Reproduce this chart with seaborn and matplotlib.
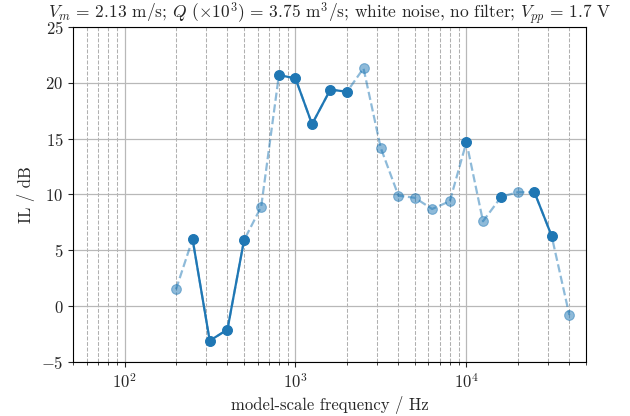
import numpy as np
import pandas as pd
import seaborn as sns
import matplotlib.pyplot as plt

# third-octave band centres (model scale) and insertion loss
freqs = [200, 250, 315, 400, 500, 630, 800, 1000, 1250, 1600, 2000, 2500,
         3150, 4000, 5000, 6300, 8000, 10000, 12500, 16000, 20000, 25000,
         31500, 40000]
il_db = [1.5, 6.0, -3.1, -2.1, 5.9, 8.9, 20.7, 20.4, 16.3, 19.4, 19.2, 21.3,
         14.2, 9.9, 9.7, 8.7, 9.4, 14.7, 7.6, 9.8, 10.2, 10.2, 6.3, -0.8]
# bands that pass the validity check (drawn solid)
valid = [0, 1, 1, 1, 1, 0, 1, 1, 1, 1, 1, 0,
         0, 0, 0, 0, 0, 1, 0, 1, 0, 1, 1, 0]

df = pd.DataFrame({"f": freqs, "il": il_db, "ok": np.array(valid, bool)})
# contiguous runs of valid bands -> separate line units
df["run"] = (~df["ok"]).cumsum()

sns.set_style("ticks")
plt.rcParams["font.family"] = "serif"
plt.rcParams["font.serif"] = ["cmr10"]
plt.rcParams["mathtext.fontset"] = "cm"
plt.rcParams["axes.formatter.use_mathtext"] = True
plt.rcParams["axes.unicode_minus"] = True

fig, ax = plt.subplots(figsize=(6.3, 4.16), dpi=100)
fig.subplots_adjust(left=0.116, right=0.930, top=0.935, bottom=0.130)

c0 = "#1f77b4"
sns.lineplot(data=df, x="f", y="il", ax=ax, color=c0, alpha=0.5,
             linestyle="--", marker="o", markersize=7, linewidth=1.6,
             markeredgecolor=c0, estimator=None, sort=False)
sns.lineplot(data=df[df["ok"]], x="f", y="il", units="run", ax=ax,
             color=c0, marker="o", markersize=7, linewidth=1.6,
             markeredgecolor=c0, estimator=None, sort=False)

ax.set_xscale("log")
ax.set_xlim(50, 50000)
ax.set_ylim(-5, 25)
ax.set_yticks(np.arange(-5, 26, 5))
ax.grid(True, which="major", color="#b8b8b8", linewidth=0.9)
ax.grid(True, which="minor", axis="x", color="#b0b0b0", linestyle="--",
        linewidth=0.75)
ax.set_axisbelow(True)
for s in ax.spines.values():
    s.set_visible(True)
    s.set_color("black")
ax.tick_params(labelsize=12)

ax.set_xlabel("model-scale frequency / Hz", fontsize=12)
ax.set_ylabel("IL / dB", fontsize=12)
ax.set_title(r"$V_m$ = 2.13 m/s; $Q$ ($\times10^3$) = 3.75 m$^3$/s; "
             r"white noise, no filter; $V_{pp}$ = 1.7 V", fontsize=12.5)

plt.savefig("out.png", dpi=100)
